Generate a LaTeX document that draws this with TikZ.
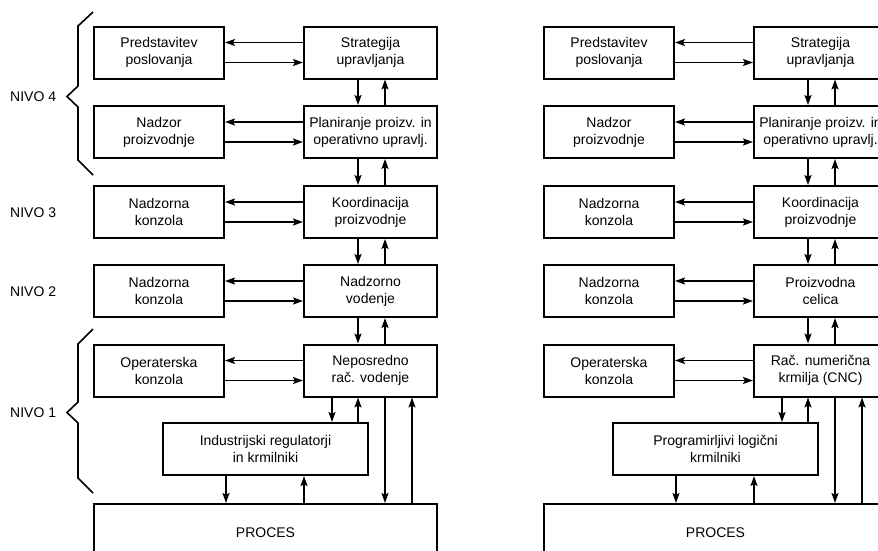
\documentclass[tikz,border=0pt]{standalone}
\usepackage{fontspec}
\setmainfont{Liberation Sans}
\usetikzlibrary{arrows.meta}

\tikzset{
  box/.style={draw, line width=2pt, minimum height=52pt, inner sep=0pt,
    align=center, font=\fontsize{14}{17}\selectfont},
  boxa/.style={box, minimum width=130pt},
  boxb/.style={box, minimum width=133pt},
  arr/.style={line width=1.8pt, -{Stealth[length=10pt,width=7pt,inset=2pt]}},
  bracket/.style={line width=1.6pt, line join=miter},
  level/.style={anchor=west, inner sep=0pt, font=\fontsize{14}{17}\selectfont},
}

% One column of the control hierarchy:
% #1 name prefix, #2 level-2 unit, #3 level-1 unit, #4 lower controller
\newcommand\hierpanel[4]{%
  \node[boxa] (#1a1) at (159,52.5)  {Predstavitev\\poslovanja};
  \node[boxb] (#1b1) at (370.5,52.5) {Strategija\\upravljanja};
  \node[boxa] (#1a2) at (159,132)   {Nadzor\\proizvodnje};
  \node[boxb] (#1b2) at (370.5,132) {Planiranje proizv. in\\operativno upravlj.};
  \node[boxa] (#1a3) at (159,212)   {Nadzorna\\konzola};
  \node[boxb] (#1b3) at (370.5,212) {Koordinacija\\proizvodnje};
  \node[boxa] (#1a4) at (159,291)   {Nadzorna\\konzola};
  \node[boxb] (#1b4) at (370.5,291) {#2};
  \node[boxa] (#1a5) at (159,370.5) {Operaterska\\konzola};
  \node[boxb] (#1b5) at (370.5,370.5) {#3};
  \node[box, minimum width=205pt] (#1c) at (265.5,449) {#4};
  \node[box, minimum width=343pt, minimum height=58pt, anchor=north] (#1p)
    at (265.5,503) {PROCES};
  % side consoles <-> main units
  \foreach \i in {1,...,5} {
    \draw[arr] ([yshift=10pt]#1b\i.west) -- ([yshift=10pt]#1a\i.east);
    \draw[arr] ([yshift=-10pt]#1a\i.east) -- ([yshift=-10pt]#1b\i.west);
  }
  % main units, level to level
  \foreach \i/\j in {1/2,2/3,3/4,4/5} {
    \draw[arr] ([xshift=-12.5pt]#1b\i.south) -- ([xshift=-12.5pt]#1b\j.north);
    \draw[arr] ([xshift=14.5pt]#1b\j.north) -- ([xshift=14.5pt]#1b\i.south);
  }
  % lowest unit <-> controllers and process
  \draw[arr] ([xshift=-38.5pt]#1b5.south) -- ([xshift=66.5pt]#1c.north);
  \draw[arr] ([xshift=92.5pt]#1c.north) -- ([xshift=-12.5pt]#1b5.south);
  \draw[arr] ([xshift=14.5pt]#1b5.south) -- ([xshift=119.5pt]#1p.north);
  \draw[arr] ([xshift=146.5pt]#1p.north) -- ([xshift=41.5pt]#1b5.south);
  \draw[arr] ([xshift=-39.5pt]#1c.south) -- ([xshift=-39.5pt]#1p.north);
  \draw[arr] ([xshift=38.5pt]#1p.north) -- ([xshift=38.5pt]#1c.south);
}

\begin{document}
\begin{tikzpicture}[x=1pt, y=-1pt]
  \useasboundingbox (0,0) rectangle (878,550);
  \clip (0,0) rectangle (878,550);
  \fill[white] (0,0) rectangle (878,550);

  \hierpanel{L}{Nadzorno\\vodenje}{Neposredno\\rač. vodenje}
    {Industrijski regulatorji\\in krmilniki}

  \begin{scope}[xshift=450pt]
    \hierpanel{R}{Proizvodna\\celica}{Rač. numerična\\krmilja (CNC)}
      {Programirljivi logični\\krmilniki}
  \end{scope}

  % level brackets and labels
  \draw[bracket] (93,12) -- (78,26) -- (78,86) -- (67,96.5) -- (78,107)
    -- (78,160) -- (93,175);
  \draw[bracket] (93,329) -- (78,344) -- (78,402) -- (67,412.5) -- (78,423)
    -- (78,478) -- (93,493);
  \node[level] (n4) at (10,97)  {NIVO 4};
  \node[level] (n3) at (10,213) {NIVO 3};
  \node[level] (n2) at (10,292) {NIVO 2};
  \node[level] (n1) at (10,413) {NIVO 1};
\end{tikzpicture}
\end{document}
